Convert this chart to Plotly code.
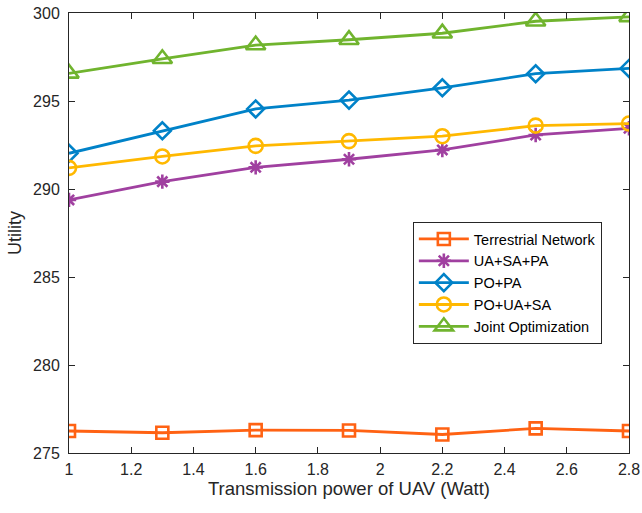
import plotly.graph_objects as go

x = [1.0, 1.3, 1.6, 1.9, 2.2, 2.5, 2.8]
terrestrial = [276.25, 276.15, 276.3, 276.28, 276.05, 276.4, 276.25]
ua_sa_pa = [289.38, 290.42, 291.23, 291.69, 292.22, 293.07, 293.45]
po_pa = [292.03, 293.31, 294.55, 295.05, 295.75, 296.55, 296.85]
po_ua_sa = [291.2, 291.85, 292.45, 292.72, 293.0, 293.6, 293.72]
joint = [296.57, 297.4, 298.18, 298.48, 298.85, 299.53, 299.78]

names = ["Terrestrial Network", "UA+SA+PA", "PO+PA", "PO+UA+SA", "Joint Optimization"]
series = [terrestrial, ua_sa_pa, po_pa, po_ua_sa, joint]
colors = ["#FF6213", "#A040A0", "#0082C8", "#FFB800", "#70B42E"]
symbols = ["square-open", "asterisk-open", "diamond-open", "circle-open", "triangle-up-open"]
sizes = [12, 12, 13, 14, 17]

fig = go.Figure()
for n, s, c, m, sz in zip(names, series, colors, symbols, sizes):
    fig.add_trace(go.Scatter(
        x=x, y=s, name=n, mode="lines+markers",
        line=dict(color=c, width=2.8),
        marker=dict(symbol=m, size=sz, color=c, line=dict(color=c, width=2.6)),
    ))

FONT = "Liberation Sans, Arial, Helvetica"
axis_common = dict(
    showline=True, linecolor="#262626", linewidth=1, mirror="ticks",
    ticks="inside", ticklen=6, tickcolor="#262626", showgrid=False, zeroline=False,
    automargin=False,
    tickfont=dict(family=FONT, size=16, color="#262626"),
)
fig.update_xaxes(range=[1, 2.8], tickvals=[1, 1.2, 1.4, 1.6, 1.8, 2, 2.2, 2.4, 2.6, 2.8],
                 ticktext=["1", "1.2", "1.4", "1.6", "1.8", "2", "2.2", "2.4", "2.6", "2.8"],
                 ticklabelstandoff=2,
                 title=dict(text="Transmission power of UAV (Watt)", standoff=4,
                            font=dict(family=FONT, size=18.5, color="#262626")),
                 **axis_common)
fig.update_yaxes(range=[275, 300], tickvals=[275, 280, 285, 290, 295, 300],
                 ticklabelstandoff=5,
                 title=dict(text="Utility", standoff=6,
                            font=dict(family=FONT, size=18, color="#262626")),
                 **axis_common)

fig.update_layout(
    width=642, height=513,
    margin=dict(l=69, r=13, t=13, b=60),
    plot_bgcolor="white", paper_bgcolor="white",
    legend=dict(x=0.614, y=0.525, xanchor="left", yanchor="top",
                bgcolor="white", bordercolor="#262626", borderwidth=1,
                font=dict(family=FONT, size=14.5, color="black"),
                itemwidth=50, tracegroupgap=0),
)
fig.write_html("out.html")
